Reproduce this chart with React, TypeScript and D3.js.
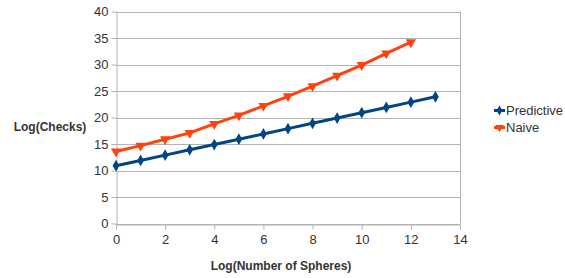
import React, { useRef, useEffect } from 'react';
import * as d3 from 'd3';

const xValues = [0, 1, 2, 3, 4, 5, 6, 7, 8, 9, 10, 11, 12, 13];
const predictive = [10.9, 11.9, 12.9, 13.9, 14.9, 15.9, 16.9, 17.9, 18.9, 19.9, 20.9, 21.9, 22.9, 23.9];
const naive = [13.6, 14.7, 15.9, 17.1, 18.8, 20.4, 22.2, 24.0, 25.9, 27.9, 29.9, 32.1, 34.2];
const xTicks = [0, 2, 4, 6, 8, 10, 12, 14];
const yTicks = [0, 5, 10, 15, 20, 25, 30, 35, 40];

const App = () => {
  const svgRef = useRef<SVGSVGElement>(null);

  useEffect(() => {
    const svg = d3.select(svgRef.current);
    svg.selectAll("*").remove();

    const width = 565;
    const height = 278;
    const font = "'Liberation Sans', Arial, sans-serif";

    const x = d3.scaleLinear().domain([0, 14]).range([116, 460]);
    const y = d3.scaleLinear().domain([0, 40]).range([223.5, 11.5]);

    svg.attr("width", width).attr("height", height).style("background", "white");

    // Grid lines
    svg.append("g")
      .selectAll("line")
      .data(yTicks)
      .enter()
      .append("line")
      .attr("x1", x(0))
      .attr("x2", x(14))
      .attr("y1", d => Math.round(y(d)) + 0.5)
      .attr("y2", d => Math.round(y(d)) + 0.5)
      .style("stroke", "#b3b3b3")
      .style("stroke-width", 1);

    // Right border of plot
    svg.append("line")
      .attr("x1", Math.round(x(14)) + 0.5).attr("x2", Math.round(x(14)) + 0.5)
      .attr("y1", y(40)).attr("y2", y(0))
      .style("stroke", "#b3b3b3");

    // Axes
    const xAxis = svg.append("g")
      .attr("transform", `translate(0,${Math.round(y(0)) + 0.5})`)
      .call(d3.axisBottom(x).tickValues(xTicks).tickSize(5).tickSizeOuter(0).tickPadding(5));
    const yAxis = svg.append("g")
      .attr("transform", `translate(${Math.round(x(0)) + 0.5},0)`)
      .call(d3.axisLeft(y).tickValues(yTicks).tickSize(5).tickSizeOuter(0).tickPadding(3));

    [xAxis, yAxis].forEach(a => {
      a.select(".domain").style("stroke", "#b3b3b3");
      a.selectAll(".tick line").style("stroke", "#b3b3b3");
      a.selectAll("text")
        .style("font-family", font)
        .style("font-size", "13px")
        .style("fill", "#333333");
    });

    const line = d3.line<number>()
      .x((d, i) => x(xValues[i]))
      .y(d => y(d));

    const series = [
      { name: "Predictive", values: predictive, color: "#004586", symbol: d3.symbolDiamond },
      { name: "Naive", values: naive, color: "#ff420e", symbol: d3.symbolTriangle }
    ];

    series.forEach(s => {
      svg.append("path")
        .datum(s.values)
        .attr("d", line)
        .style("fill", "none")
        .style("stroke", s.color)
        .style("stroke-width", 3);

      const sym = d3.symbol().type(s.symbol).size(s.name === "Naive" ? 45 : 40);
      svg.append("g")
        .selectAll("path")
        .data(s.values)
        .enter()
        .append("path")
        .attr("d", sym)
        .attr("transform", (d, i) =>
          `translate(${x(xValues[i])},${y(d)})` + (s.name === "Naive" ? " rotate(180)" : ""))
        .style("fill", s.color);
    });

    // Legend
    series.forEach((s, i) => {
      const ly = 110.5 + i * 17;
      svg.append("line")
        .attr("x1", 494).attr("x2", 505)
        .attr("y1", ly).attr("y2", ly)
        .style("stroke", s.color)
        .style("stroke-width", 3);
      const sym = d3.symbol().type(s.symbol).size(30);
      svg.append("path")
        .attr("d", sym)
        .attr("transform", `translate(499.5,${ly})` + (s.name === "Naive" ? " rotate(180)" : ""))
        .style("fill", s.color);
      svg.append("text")
        .attr("x", 506)
        .attr("y", ly)
        .attr("dy", "0.35em")
        .style("font-family", font)
        .style("font-size", "13px")
        .style("fill", "#333333")
        .text(s.name);
    });

    // Axis titles
    svg.append("text")
      .attr("x", 50)
      .attr("y", 127)
      .attr("dy", "0.35em")
      .attr("text-anchor", "middle")
      .style("font-family", font)
      .style("font-size", "12px")
      .style("font-weight", "bold")
      .style("fill", "#333333")
      .text("Log(Checks)");

    svg.append("text")
      .attr("x", 281)
      .attr("y", 266)
      .attr("dy", "0.35em")
      .attr("text-anchor", "middle")
      .style("font-family", font)
      .style("font-size", "12px")
      .style("font-weight", "bold")
      .style("fill", "#333333")
      .text("Log(Number of Spheres)");
  }, []);

  return (
    <div style={{ position: "absolute", left: 0, top: 0 }}>
      <svg ref={svgRef}></svg>
    </div>
  );
};

export default App;
